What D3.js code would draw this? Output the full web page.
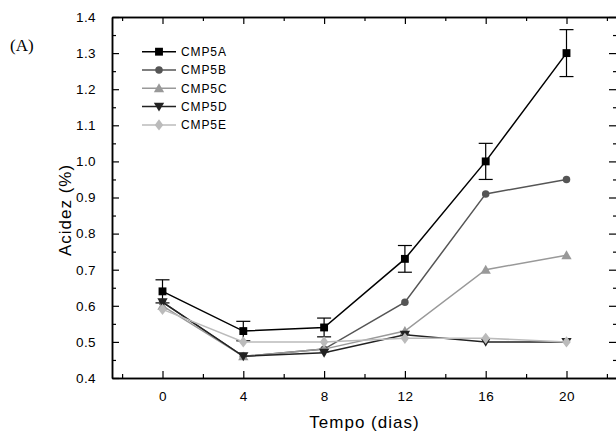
<!DOCTYPE html>
<html>
<head>
<meta charset="utf-8">
<script src="https://cdn.jsdelivr.net/npm/d3@7"></script>
<style>
body { margin: 0; background: #fff; }
svg { display: block; }
text { font-family: "Liberation Sans", Arial, sans-serif; fill: #000; }
</style>
</head>
<body>
<svg id="chart" width="616" height="434"></svg>
<script>
/* tempo (dias) */
var DAYS = [0, 4, 8, 12, 16, 20];

var SERIES_NAMES = ["CMP5A", "CMP5B", "CMP5C", "CMP5D", "CMP5E"];

/* acidez (%) per series */
var CMP5A = [0.64, 0.53, 0.54, 0.73, 1.00, 1.30];
var CMP5B = [0.61, 0.46, 0.48, 0.61, 0.91, 0.95];
var CMP5C = [0.60, 0.46, 0.48, 0.53, 0.70, 0.74];
var CMP5D = [0.61, 0.46, 0.47, 0.52, 0.50, 0.50];
var CMP5E = [0.59, 0.50, 0.50, 0.51, 0.51, 0.50];

/* error bars, only CMP5A has them */
var CMP5A_ERR = [0.032, 0.027, 0.026, 0.037, 0.05, 0.065];

var X_TICKS = [0, 4, 8, 12, 16, 20];
var X_MINOR = [-2, 2, 6, 10, 14, 18, 22];
var Y_TICKS = [0.4, 0.5, 0.6, 0.7, 0.8, 0.9, 1.0, 1.1, 1.2, 1.3, 1.4];
var Y_MINOR = [0.45, 0.55, 0.65, 0.75, 0.85, 0.95, 1.05, 1.15, 1.25, 1.35];

var COLORS = ["#000000", "#555555", "#999999", "#222222", "#bbbbbb"];
var SYMBOLS = ["square", "circle", "triangle", "triangleDown", "diamond"];

var svg = d3.select("#chart");
var plotLeft = 112, plotRight = 617, plotTop = 17, plotBottom = 378;

var x = d3.scaleLinear().domain([-2.5, 22.5]).range([plotLeft, plotRight]);
var y = d3.scaleLinear().domain([0.4, 1.4]).range([plotBottom, plotTop]);

var allValues = [CMP5A, CMP5B, CMP5C, CMP5D, CMP5E];

/* axes: major ticks inward, minor ticks shorter */
function fmt(d){ return d.toFixed(1); }
function labelStyle(g){
    g.selectAll("text")
        .style("font-size", "13.5px")
        .style("letter-spacing", "0.4px")
        .style("font-family", "Liberation Sans, Arial");
}

var ax = svg.append("g").attr("class", "axes");

ax.append("g").attr("transform", "translate(0," + plotBottom + ")")
    .call(d3.axisBottom(x).tickValues(X_TICKS).tickSizeInner(-7).tickSizeOuter(0).tickPadding(13))
    .call(labelStyle);
ax.append("g").attr("transform", "translate(0," + plotBottom + ")")
    .call(d3.axisBottom(x).tickValues(X_MINOR).tickSizeInner(-4).tickSizeOuter(0).tickFormat(""));

ax.append("g").attr("transform", "translate(0," + plotTop + ")")
    .call(d3.axisTop(x).tickValues(X_TICKS).tickSizeInner(-7).tickSizeOuter(0).tickFormat(""));
ax.append("g").attr("transform", "translate(0," + plotTop + ")")
    .call(d3.axisTop(x).tickValues(X_MINOR).tickSizeInner(-4).tickSizeOuter(0).tickFormat(""));

ax.append("g").attr("transform", "translate(" + plotLeft + ",0)")
    .call(d3.axisLeft(y).tickValues(Y_TICKS).tickSizeInner(-7).tickSizeOuter(0).tickPadding(16).tickFormat(fmt))
    .call(labelStyle);
ax.append("g").attr("transform", "translate(" + plotLeft + ",0)")
    .call(d3.axisLeft(y).tickValues(Y_MINOR).tickSizeInner(-4).tickSizeOuter(0).tickFormat(""));

ax.append("g").attr("transform", "translate(" + plotRight + ",0)")
    .call(d3.axisRight(y).tickValues(Y_TICKS).tickSizeInner(-8).tickSizeOuter(0).tickFormat(""));
ax.append("g").attr("transform", "translate(" + plotRight + ",0)")
    .call(d3.axisRight(y).tickValues(Y_MINOR).tickSizeInner(-4).tickSizeOuter(0).tickFormat(""));

ax.selectAll(".domain").attr("stroke", "#000").attr("stroke-width", 1.5);
ax.selectAll(".tick line").attr("stroke", "#000").attr("stroke-width", 1.2);

/* titles */
svg.append("text")
    .attr("x", (plotLeft + plotRight) / 2).attr("y", 428)
    .attr("text-anchor", "middle")
    .style("font-size", "17px").style("letter-spacing", "1px")
    .text("Tempo (dias)");

svg.append("text")
    .attr("transform", "translate(71,210) rotate(-90)")
    .attr("text-anchor", "middle")
    .style("font-size", "17px").style("letter-spacing", "1px")
    .text("Acidez (%)");

svg.append("text")
    .attr("x", 10).attr("y", 51)
    .style("font-size", "17px")
    .style("font-family", "Liberation Serif, DejaVu Serif, serif")
    .text("(A)");

/* markers */
function symbolPath(kind){
    switch(kind){
        case "square": return d3.symbol(d3.symbolSquare, 62)();
        case "circle": return d3.symbol(d3.symbolCircle, 44)();
        case "triangle": return d3.symbol(d3.symbolTriangle, 46)();
        case "triangleDown": return d3.symbol(d3.symbolTriangle, 46)();
        case "diamond": return d3.symbol(d3.symbolDiamond, 40)();
        default: throw "unknown symbol " + kind;
    }
}
function symbolTransform(kind, px, py){
    var t = "translate(" + px + "," + py + ")";
    if (kind === "triangleDown") t += " rotate(180)";
    if (kind === "triangle" || kind === "triangleDown") t += " translate(0,1)";
    if (kind === "diamond") t += " scale(1.25,0.95)";
    return t;
}

var line = d3.line()
    .x(function(d, i){ return x(DAYS[i]); })
    .y(function(d){ return y(d); });

var plot = svg.append("g");

allValues.forEach(function(values, s){
    var g = plot.append("g").attr("class", SERIES_NAMES[s]);
    g.append("path")
        .attr("d", line(values))
        .attr("fill", "none")
        .attr("stroke", COLORS[s])
        .attr("stroke-width", 1.5);

    if (s === 0) {
        /* error bars for CMP5A */
        values.forEach(function(v, i){
            var px = x(DAYS[i]);
            var e = CMP5A_ERR[i];
            g.append("line").attr("x1", px).attr("x2", px)
                .attr("y1", y(v + e)).attr("y2", y(v - e))
                .attr("stroke", "#000").attr("stroke-width", 1.2);
            [v + e, v - e].forEach(function(c){
                g.append("line").attr("x1", px - 7).attr("x2", px + 7)
                    .attr("y1", y(c)).attr("y2", y(c))
                    .attr("stroke", "#000").attr("stroke-width", 1.2);
            });
        });
    }

    values.forEach(function(v, i){
        g.append("path")
            .attr("d", symbolPath(SYMBOLS[s]))
            .attr("transform", symbolTransform(SYMBOLS[s], x(DAYS[i]), y(v)))
            .attr("fill", COLORS[s]);
    });
});

/* legend */
var legend = svg.append("g");
SERIES_NAMES.forEach(function(name, i){
    var ly = 51.7 + i * 18.3;
    legend.append("line")
        .attr("x1", 142).attr("x2", 176)
        .attr("y1", ly).attr("y2", ly)
        .attr("stroke", COLORS[i]).attr("stroke-width", 1.5);
    legend.append("path")
        .attr("d", symbolPath(SYMBOLS[i]))
        .attr("transform", symbolTransform(SYMBOLS[i], 159, ly))
        .attr("fill", COLORS[i]);
    legend.append("text")
        .attr("x", 181).attr("y", ly + 4.3)
        .style("font-size", "12px").style("letter-spacing", "0.9px")
        .text(name);
});
</script>
</body>
</html>
